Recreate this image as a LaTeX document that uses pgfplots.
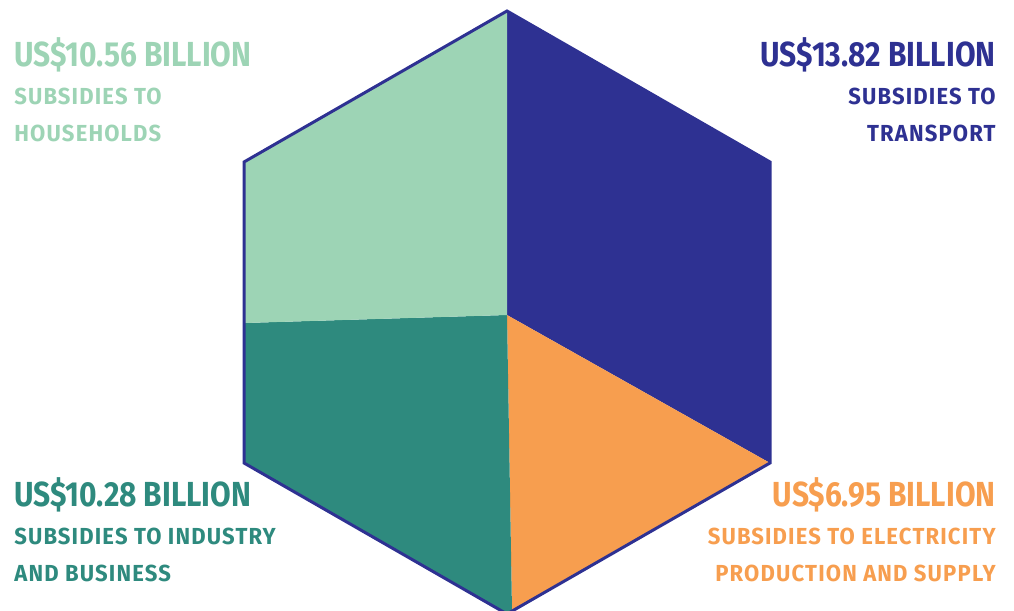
\documentclass[border=0pt]{standalone}
\usepackage{pgfplots}
\pgfplotsset{compat=1.18}
\usepackage{fontspec}
\newfontfamily\bigfont{Fira Sans}[FakeStretch=0.86]
\newfontfamily\smallfont{Fira Sans}[FakeStretch=0.95, LetterSpace=5]

\definecolor{transport}{HTML}{2E3192}
\definecolor{households}{HTML}{9DD4B5}
\definecolor{industry}{HTML}{2E8A7E}
\definecolor{electricity}{HTML}{F79E4F}

\tikzset{
    big/.style={font=\bigfont\bfseries\fontsize{17.4}{20}\selectfont},
    small/.style={font=\smallfont\bfseries\fontsize{11.6}{14}\selectfont},
}

% shares (US$ billion): transport 13.82, electricity 6.95,
% industry 10.28, households 10.56 -> slice edges on the hexagon
\begin{document}
\begin{tikzpicture}
\begin{axis}[
    scale only axis,
    width=507pt, height=305.5pt,
    xmin=0, xmax=1014, ymin=-611, ymax=0,
    hide axis,
    clip=true,
]
% transport
\addplot[fill=transport, draw=none] coordinates {
    (507,-315) (507,-11) (770,-162) (770,-463)} -- cycle;
% electricity
\addplot[fill=electricity, draw=none] coordinates {
    (507,-315) (770,-463) (512,-611)} -- cycle;
% industry
\addplot[fill=industry, draw=none] coordinates {
    (507,-315) (512,-611) (507,-614) (244,-463) (244,-323)} -- cycle;
% households
\addplot[fill=households, draw=none] coordinates {
    (507,-315) (244,-323) (244,-162) (507,-11)} -- cycle;
% outline
\addplot[draw=transport, line width=1.5pt, line join=miter] coordinates {
    (507,-11) (770,-162) (770,-463) (507,-614) (244,-463) (244,-162)} -- cycle;

\begin{scope}[every node/.style={inner sep=0pt}]
\node[anchor=base west, text=households, big] at (axis cs:14,-67) {US\$10.56 BILLION};
\node[anchor=base west, text=households, small] at (axis cs:14,-105) {SUBSIDIES TO};
\node[anchor=base west, text=households, small] at (axis cs:14,-142) {HOUSEHOLDS};

\node[anchor=base east, text=transport, big] at (axis cs:996,-67) {US\$13.82 BILLION};
\node[anchor=base east, text=transport, small] at (axis cs:996,-105) {SUBSIDIES TO};
\node[anchor=base east, text=transport, small] at (axis cs:996,-142) {TRANSPORT};

\node[anchor=base west, text=industry, big] at (axis cs:14,-507) {US\$10.28 BILLION};
\node[anchor=base west, text=industry, small] at (axis cs:14,-545) {SUBSIDIES TO INDUSTRY};
\node[anchor=base west, text=industry, small] at (axis cs:14,-582) {AND BUSINESS};

\node[anchor=base east, text=electricity, big] at (axis cs:996,-507) {US\$6.95 BILLION};
\node[anchor=base east, text=electricity, small] at (axis cs:996,-545) {SUBSIDIES TO ELECTRICITY};
\node[anchor=base east, text=electricity, small] at (axis cs:996,-582) {PRODUCTION AND SUPPLY};
\end{scope}
\end{axis}
\pgfresetboundingbox
\useasboundingbox (current axis.south west) rectangle (current axis.north east);
\end{tikzpicture}
\end{document}
